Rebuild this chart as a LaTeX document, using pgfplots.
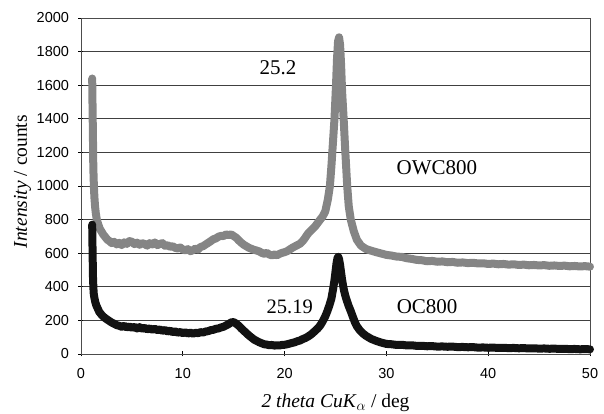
\documentclass[border=0pt]{standalone}
\usepackage{fontspec}
\setmainfont{Liberation Serif}
\setsansfont{Liberation Sans}
\usepackage{pgfplots}
\pgfplotsset{compat=1.18}
\definecolor{owc}{rgb}{0.52,0.52,0.52}
\definecolor{oc}{rgb}{0.07,0.07,0.07}
\begin{document}
\begin{tikzpicture}
\useasboundingbox (-81pt,-60pt) rectangle (523pt,354pt);
\begin{axis}[
  at={(0pt,0pt)}, anchor=south west,
  scale only axis, width=509pt, height=336pt,
  xmin=0, xmax=50, ymin=0, ymax=2000,
  xtick={0,10,...,50}, ytick={0,200,...,2000},
  ymajorgrids, grid style={black!75, line width=0.6pt},
  axis line style={black!70, line width=0.6pt},
  tick style={black, line width=0.6pt},
  tick align=center, major tick length=5pt,
  xtick pos=bottom, ytick pos=left,
  /pgf/number format/assume math mode=true,
  /pgf/number format/set thousands separator={},
  ticklabel style={font=\sffamily\fontsize{14.5}{16}\selectfont},
  yticklabel style={xshift=-6pt},
  xticklabel style={yshift=-8pt},
  clip=false,
]
\addplot[owc, line width=8pt, line join=round, line cap=round] coordinates {
(1.10,1640) (1.12,1530) (1.13,1490) (1.14,1430) (1.15,1400) (1.16,1350) (1.17,1300) (1.18,1260) (1.19,1200) (1.20,1150)
(1.22,1090) (1.25,1030) (1.28,980) (1.32,930) (1.38,880) (1.45,840) (1.55,800) (1.7,770) (1.85,745) (2.0,730)
(2.2,710) (2.4,695) (2.6,680) (2.8,672) (3.0,660) (3.25,668) (3.5,652) (3.75,662) (4.0,648) (4.25,665)
(4.5,655) (4.75,672) (5.0,668) (5.25,654) (5.5,663) (5.75,650) (6.0,660) (6.25,655) (6.5,645) (6.75,660)
(7.0,652) (7.25,664) (7.5,648) (7.75,655) (8.0,660) (8.25,644) (8.5,648) (8.75,638) (9.0,642) (9.25,632)
(9.5,628) (9.75,634) (10.0,622) (10.25,617) (10.5,624) (10.75,612) (11.0,618) (11.25,628) (11.5,622) (11.75,637)
(12.0,642) (12.25,652) (12.5,662) (12.75,672) (13.0,683) (13.25,688) (13.5,698) (13.75,703) (14.0,702) (14.25,712)
(14.5,708) (14.75,712) (15.0,702) (15.25,692) (15.5,676) (15.75,662) (16.0,650) (16.25,641) (16.5,632) (16.75,626)
(17.0,620) (17.25,616) (17.5,611) (17.75,602) (18.0,597) (18.25,602) (18.5,592) (18.75,587) (19.0,592) (19.25,588)
(19.5,596) (19.75,602) (20.0,606) (20.25,612) (20.5,622) (20.75,632) (21.0,640) (21.25,648) (21.5,656) (21.75,670)
(22.0,690) (22.25,713) (22.5,730) (22.75,745) (23.0,760) (23.25,780) (23.5,800) (23.75,820) (24.0,850) (24.25,920)
(24.45,1000) (24.6,1120) (24.75,1260) (24.9,1400) (25.05,1600) (25.15,1760) (25.25,1860) (25.35,1885) (25.45,1840) (25.55,1720)
(25.65,1560) (25.8,1400) (25.95,1220) (26.15,1000) (26.3,880) (26.5,800) (26.8,730) (27.1,680) (27.5,645) (28.0,625)
(28.5,615) (29.0,606) (29.5,598) (30.0,590) (30.5,586) (31.0,580) (31.5,578) (32.0,570) (32.5,566) (33.0,560)
(33.5,558) (34.0,552) (34.5,554) (35.0,549) (35.5,551) (36.0,546) (36.5,548) (37.0,543) (37.5,545) (38.0,541)
(38.5,543) (39.0,539) (39.5,540) (40.0,536) (40.5,538) (41.0,534) (41.5,536) (42.0,532) (42.5,534) (43.0,530)
(43.5,532) (44.0,528) (44.5,530) (45.0,527) (45.5,529) (46.0,525) (46.5,527) (47.0,524) (47.5,526) (48.0,522)
(48.5,524) (49.0,521) (49.5,523) (50.0,520)
};
\addplot[oc, line width=8pt, line join=round, line cap=round] coordinates {
(1.10,770) (1.12,680) (1.13,640) (1.14,620) (1.15,560) (1.16,530) (1.17,500) (1.18,450) (1.20,420) (1.22,390)
(1.25,360) (1.3,340) (1.4,310) (1.5,290) (1.65,270) (1.8,250) (2.0,235) (2.2,222) (2.5,208) (2.8,196)
(3.0,188) (3.25,180) (3.5,172) (3.75,168) (4.0,162) (4.25,168) (4.5,158) (4.75,164) (5.0,156) (5.25,162)
(5.5,152) (5.75,160) (6.0,150) (6.25,156) (6.5,147) (6.75,152) (7.0,145) (7.25,150) (7.5,142) (7.75,146)
(8.0,138) (8.25,143) (8.5,134) (8.75,139) (9.0,130) (9.25,135) (9.5,127) (9.75,131) (10.0,124) (10.25,129)
(10.5,122) (10.75,127) (11.0,121) (11.25,126) (11.5,124) (11.75,130) (12.0,128) (12.25,134) (12.5,136) (12.75,142)
(13.0,144) (13.25,150) (13.5,152) (13.75,158) (14.0,162) (14.25,170) (14.5,178) (14.75,188) (15.0,190) (15.25,180)
(15.5,168) (15.75,152) (16.0,138) (16.25,124) (16.5,110) (16.75,98) (17.0,86) (17.25,78) (17.5,70) (17.75,64)
(18.0,58) (18.25,56) (18.5,52) (18.75,54) (19.0,50) (19.25,52) (19.5,51) (19.75,54) (20.0,55) (20.25,58)
(20.5,62) (20.75,66) (21.0,70) (21.25,76) (21.5,80) (21.75,88) (22.0,94) (22.25,102) (22.5,112) (22.75,124)
(23.0,138) (23.25,152) (23.5,170) (23.75,195) (24.0,225) (24.2,255) (24.4,290) (24.6,330) (24.8,400) (24.9,440)
(25.0,490) (25.1,540) (25.2,572) (25.27,578) (25.35,565) (25.45,530) (25.55,485) (25.65,440) (25.75,405) (25.85,375)
(25.95,350) (26.1,320) (26.3,285) (26.5,255) (26.7,222) (26.9,190) (27.1,165) (27.4,140) (27.7,122) (28.0,108)
(28.5,90) (29.0,78) (29.5,68) (30.0,60) (30.5,58) (31.0,54) (31.5,55) (32.0,51) (32.5,52) (33.0,48)
(33.5,49) (34.0,46) (34.5,47) (35.0,44) (35.5,45) (36.0,43) (36.5,44) (37.0,41) (37.5,42) (38.0,40)
(38.5,41) (39.0,38) (39.5,39) (40.0,37) (40.5,38) (41.0,36) (41.5,37) (42.0,35) (42.5,36) (43.0,34)
(43.5,35) (44.0,33) (44.5,34) (45.0,32) (45.5,33) (46.0,31) (46.5,32) (47.0,30) (47.5,31) (48.0,29)
(48.5,30) (49.0,28) (49.5,29) (50.0,28)
};
\node[font=\fontsize{21}{24}\selectfont] at (axis cs:19.35,1702) {25.2};
\node[font=\fontsize{21}{24}\selectfont] at (axis cs:34.97,1107) {OWC800};
\node[font=\fontsize{20.5}{24}\selectfont] at (axis cs:20.5,280) {25.19};
\node[font=\fontsize{21}{24}\selectfont] at (axis cs:34.0,280) {OC800};
\node[anchor=base, font=\fontsize{19.5}{22}\selectfont] at ([yshift=-53pt]rel axis cs:0.5,0) {\textit{2 theta CuK}$_{\alpha}$ / deg};
\node[anchor=base, rotate=90, font=\fontsize{19.5}{22}\selectfont] at ([xshift=-54pt]rel axis cs:0,0.513) {\textit{Intensity} / counts};
\end{axis}
\end{tikzpicture}
\end{document}
